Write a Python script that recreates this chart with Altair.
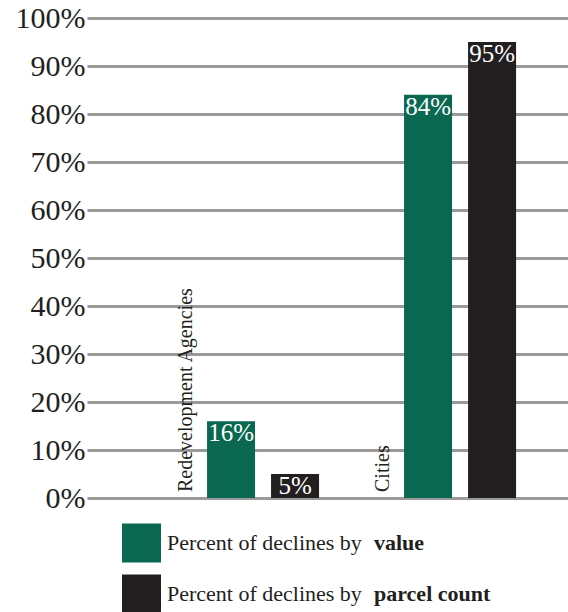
import altair as alt
import pandas as pd

# ---- data ----
groups = ["Redevelopment Agencies", "Cities"]
series = ["value", "parcel count"]
pct_by_value = [0.16, 0.84]
pct_by_parcel = [0.05, 0.95]
legend_prefix = ["Percent of declines by ", "Percent of declines by "]
legend_bold = ["value", "parcel count"]
y_ticks = [0.0, 0.1, 0.2, 0.3, 0.4, 0.5, 0.6, 0.7, 0.8, 0.9, 1.0]

# ---- styles ----
colors = ["#0a6850", "#231f20"]
FONT = "Liberation Serif"
TXT = "#231f20"

rows = []
for g, v, p in zip(groups, pct_by_value, pct_by_parcel):
    rows.append({"group": g, "series": series[0], "pct": v})
    rows.append({"group": g, "series": series[1], "pct": p})
df = pd.DataFrame(rows)
gdf = pd.DataFrame({"group": groups})
ldf = pd.DataFrame({"series": series, "prefix": legend_prefix, "bold": legend_bold})

color_scale = alt.Scale(domain=series, range=colors)
x_enc = alt.X("group:N", sort=groups,
              scale=alt.Scale(paddingInner=0.4315, paddingOuter=0.4365, align=0.698),
              axis=None)
y_enc = alt.Y("pct:Q", scale=alt.Scale(domain=[0, 1]),
              axis=alt.Axis(values=y_ticks, format=".0%", title=None, ticks=False,
                            domain=False, labelFont=FONT, labelFontSize=30,
                            labelColor=TXT, labelPadding=2, gridColor="#9a9a9a",
                            gridWidth=3, gridOpacity=1))

base = alt.Chart(df).encode(
    x=x_enc,
    xOffset=alt.XOffset("series:N", sort=series,
                        scale=alt.Scale(paddingInner=0.25, paddingOuter=0)),
    y=y_enc,
)
bars = base.mark_bar().encode(color=alt.Color("series:N", scale=color_scale, legend=None))
bar_labels = base.mark_text(baseline="top", color="white", font=FONT, fontSize=25).encode(
    text=alt.Text("pct:Q", format=".0%"))

# dx/dy act in the rotated text frame
group_labels = alt.Chart(gdf).mark_text(
    angle=270, align="left", baseline="alphabetic", dx=6, dy=-71,
    font=FONT, fontSize=20, color=TXT
).encode(x=x_enc, y=alt.datum(0), text="group:N")

main = alt.layer(bars, bar_labels, group_labels).properties(width=481, height=480)

lbase = alt.Chart(ldf).encode(
    y=alt.Y("series:N", sort=series,
            scale=alt.Scale(type="point", range=[22, 73], padding=0), axis=None)
)
squares = lbase.mark_square(size=1521, opacity=1, clip=True).encode(
    x=alt.value(54.5), color=alt.Color("series:N", scale=color_scale, legend=None))
ltext = lbase.mark_text(align="left", baseline="alphabetic", dy=7, font=FONT,
                        fontSize=22, color=TXT).encode(x=alt.value(80), text="prefix:N")
lbold = lbase.mark_text(align="left", baseline="alphabetic", dy=7, font=FONT,
                        fontSize=22, fontWeight="bold", color=TXT).encode(
    x=alt.value(287), text="bold:N")
legend = alt.layer(squares, ltext, lbold).properties(width=481, height=91)

chart = alt.vconcat(main, legend, spacing=8).properties(
    padding={"left": 15, "top": 3, "right": 0, "bottom": 0},
    background="white",
).configure_view(strokeWidth=0)

chart.save("out.html", embed_options={"renderer": "svg", "actions": False})
